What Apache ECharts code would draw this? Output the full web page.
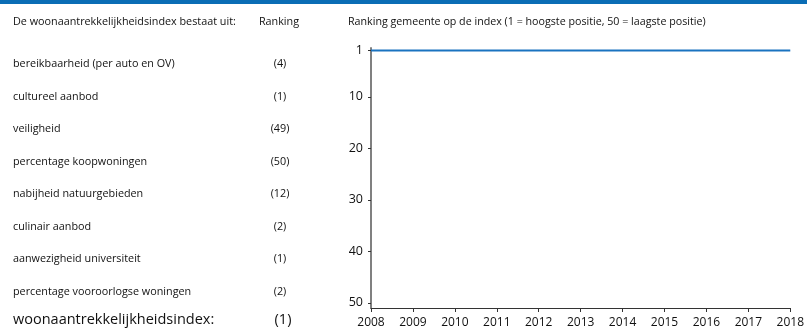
<!DOCTYPE html>
<html>
<head>
<meta charset="utf-8">
<script src="https://cdn.jsdelivr.net/npm/echarts@6/dist/echarts.min.js"></script>
<style>
  html, body { margin: 0; padding: 0; background: #fff; }
  #chart { width: 807px; height: 331px; }
</style>
</head>
<body>
<div id="chart"></div>
<script>
// Components of the index and their rankings
const components = [
  'bereikbaarheid (per auto en OV)',
  'cultureel aanbod',
  'veiligheid',
  'percentage koopwoningen',
  'nabijheid natuurgebieden',
  'culinair aanbod',
  'aanwezigheid universiteit',
  'percentage vooroorlogse woningen'
];
const componentRanks = [4, 1, 49, 50, 12, 2, 1, 2];
const totalLabel = 'woonaantrekkelijkheidsindex:';
const totalRank = 1;

// Ranking of the municipality over time
const years = [2008, 2009, 2010, 2011, 2012, 2013, 2014, 2015, 2016, 2017, 2018];
const yearRanks = [1, 1, 1, 1, 1, 1, 1, 1, 1, 1, 1];
const rankTicks = [1, 10, 20, 30, 40, 50];

const FONT = '"Open Sans", "Noto Sans", sans-serif';
const TXT = '#111';

const graphics = [
  { type: 'rect', left: 0, top: 0, shape: { width: 807, height: 4 }, style: { fill: '#0a6db5' } },
  { type: 'text', x: 13, y: 22, style: { text: 'De woonaantrekkelijkheidsindex bestaat uit:', font: '10.8px ' + FONT, fill: TXT, verticalAlign: 'middle' } },
  { type: 'text', x: 279, y: 22, style: { text: 'Ranking', font: '10.8px ' + FONT, fill: TXT, align: 'center', verticalAlign: 'middle' } },
  { type: 'text', x: 348, y: 22, style: { text: 'Ranking gemeente op de index (1 = hoogste positie, 50 = laagste positie)', font: '10.7px ' + FONT, fill: TXT, verticalAlign: 'middle' } }
];
components.forEach((name, i) => {
  const y = 64 + i * 32.5;
  graphics.push({ type: 'text', x: 13, y: y, style: { text: name, font: '10.8px ' + FONT, fill: TXT, verticalAlign: 'middle' } });
  graphics.push({ type: 'text', x: 280, y: y, style: { text: '(' + componentRanks[i] + ')', font: '10.8px ' + FONT, fill: TXT, align: 'center', verticalAlign: 'middle' } });
});
graphics.push({ type: 'text', x: 13, y: 320, style: { text: totalLabel, font: '14.5px ' + FONT, fill: TXT, verticalAlign: 'middle' } });
graphics.push({ type: 'text', x: 283, y: 320, style: { text: '(' + totalRank + ')', font: '14.5px ' + FONT, fill: TXT, align: 'center', verticalAlign: 'middle' } });

const chart = echarts.init(document.getElementById('chart'), null, { renderer: 'canvas' });
chart.setOption({
  animation: false,
  backgroundColor: '#fff',
  graphic: graphics,
  grid: { left: 371, right: 14, top: 48, bottom: 23, containLabel: false },
  xAxis: {
    type: 'value',
    min: 2008,
    max: 2018,
    interval: 1,
    splitLine: { show: false },
    axisLine: { onZero: false, lineStyle: { color: '#333', width: 1 } },
    axisTick: { length: 4, lineStyle: { color: '#333' } },
    axisLabel: { formatter: v => String(v), color: TXT, fontFamily: FONT, fontSize: 12, margin: 9 }
  },
  yAxis: {
    type: 'value',
    inverse: true,
    min: 0.5,
    max: 51,
    splitLine: { show: false },
    axisLine: { show: true, lineStyle: { color: '#808080', width: 2 } },
    axisTick: { show: true, length: 3, customValues: rankTicks, lineStyle: { color: '#333' } },
    axisLabel: { customValues: rankTicks, color: TXT, fontFamily: FONT, fontSize: 12.5, margin: 8 }
  },
  series: [{
    type: 'line',
    data: years.map((y, i) => [y, yearRanks[i]]),
    showSymbol: false,
    lineStyle: { color: '#1a73c0', width: 2 },
    itemStyle: { color: '#1a73c0' }
  }]
});
</script>
</body>
</html>
